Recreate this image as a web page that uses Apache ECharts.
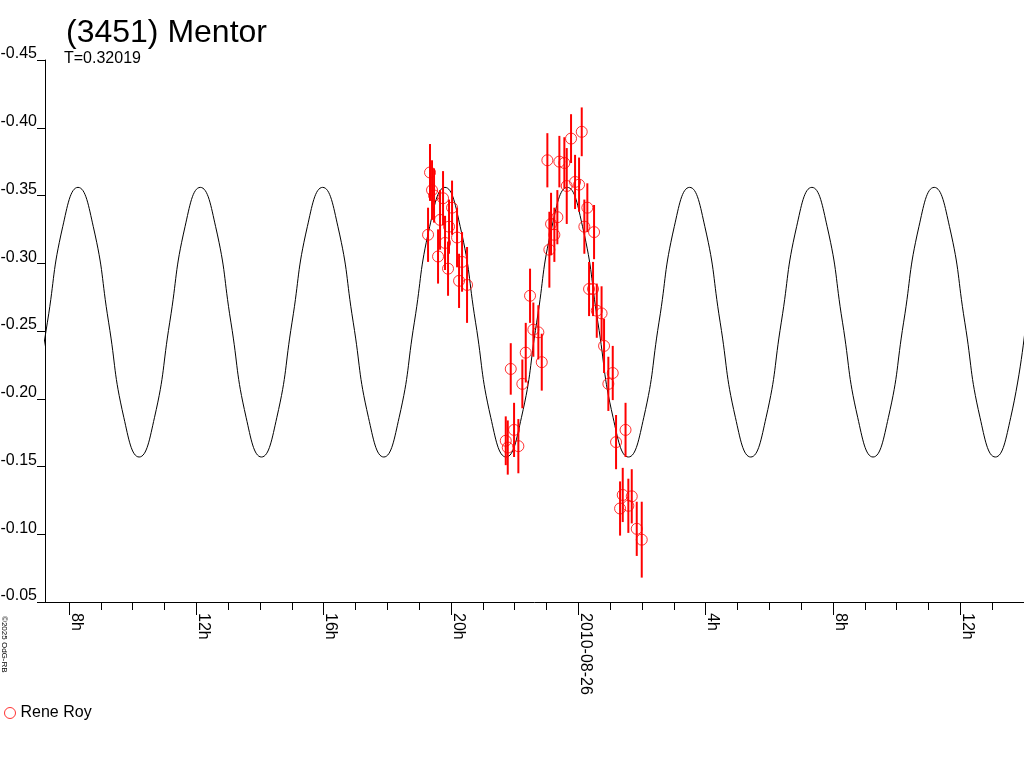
<!DOCTYPE html>
<html><head><meta charset="utf-8">
<script src="https://cdn.jsdelivr.net/npm/echarts@6/dist/echarts.min.js"></script>
<style>html,body{margin:0;padding:0;background:#fff}#c{width:1024px;height:768px}</style>
</head><body><div id="c"></div>
<script>
// ---- text ----
const titleText = '(3451) Mentor';
const subtitleText = 'T=0.32019';
const observerName = 'Rene Roy';
const copyrightText = '\u00A92025 OdG-RB';
const dateLabel = '2010-08-26';

// ---- axes (hours counted from 2010-08-25 00:00 UT) ----
const hourTicks = [8,9,10,11,12,13,14,15,16,17,18,19,20,21,22,23,24,25,26,27,28,29,30,31,32,33,34,35,36,37];
const labelHours = [8,12,16,20,24,28,32,36];
const xRange = [7.246, 38.0];
const yRange = [-0.45, -0.05];
const yStep = 0.05;

// ---- model lightcurve ----
const curveHours = [6.842,7.322,7.803,8.283,8.763,9.244,9.724,10.204,
  10.684,11.165,11.645,12.125,12.606,13.086,13.566,14.046,
  14.527,15.007,15.487,15.968,16.448,16.928,17.409,17.889,
  18.369,18.849,19.330,19.810,20.290,20.771,21.251,21.731,
  22.211,22.692,23.172,23.652,24.133,24.613,25.093,25.573,
  26.054,26.534,27.014,27.495,27.975,28.455,28.936,29.416,
  29.896,30.376,30.857,31.337,31.817,32.298,32.778,33.258,
  33.738,34.219,34.699,35.179,35.660,36.140,36.620,37.100,
  37.581,38.061];
const curveMag = [-0.186,-0.2565,-0.327,-0.356,-0.327,-0.2565,-0.186,-0.157,
  -0.186,-0.2565,-0.327,-0.356,-0.327,-0.2565,-0.186,-0.157,
  -0.186,-0.2565,-0.327,-0.356,-0.327,-0.2565,-0.186,-0.157,
  -0.186,-0.2565,-0.327,-0.356,-0.327,-0.2565,-0.186,-0.157,
  -0.186,-0.2565,-0.327,-0.356,-0.327,-0.2565,-0.186,-0.157,
  -0.186,-0.2565,-0.327,-0.356,-0.327,-0.2565,-0.186,-0.157,
  -0.186,-0.2565,-0.327,-0.356,-0.327,-0.2565,-0.186,-0.157,
  -0.186,-0.2565,-0.327,-0.356,-0.327,-0.2565,-0.186,-0.157,
  -0.186,-0.2565];

// ---- observations (Rene Roy) ----
const obsHours = [19.341,19.404,19.467,19.750,20.033,19.656,19.938,19.279,20.190,19.813,
  19.593,20.347,19.907,20.253,20.504,
  21.720,21.783,21.981,22.116,21.877,22.241,22.348,22.483,22.587,22.744,22.851,
  23.027,23.090,23.143,23.247,23.341,23.404,23.561,23.636,23.771,23.897,24.023,24.107,
  24.189,24.283,24.494,24.337,24.462,
  24.579,24.730,24.808,25.081,24.943,25.185,25.483,25.395,25.678,25.571,25.311,25.835,25.992];
const obsMag = [-0.367,-0.354,-0.350,-0.348,-0.341,-0.332,-0.327,-0.321,-0.319,-0.315,
  -0.305,-0.301,-0.296,-0.287,-0.284,
  -0.169,-0.164,-0.177,-0.165,-0.222,-0.211,-0.234,-0.276,-0.251,-0.249,-0.227,
  -0.376,-0.310,-0.329,-0.321,-0.334,-0.375,-0.374,-0.357,-0.392,-0.360,-0.358,-0.397,
  -0.327,-0.341,-0.323,-0.281,-0.281,
  -0.265,-0.263,-0.239,-0.219,-0.211,-0.168,-0.177,-0.129,-0.128,-0.121,-0.119,-0.104,-0.096];
const obsErr = [0.021,0.022,0.020,0.020,0.020,0.022,0.020,0.020,0.022,0.020,
  0.020,0.022,0.020,0.020,0.028,
  0.018,0.020,0.020,0.020,0.019,0.018,0.022,0.020,0.020,0.020,0.021,
  0.020,0.028,0.023,0.020,0.020,0.019,0.019,0.028,0.018,0.020,0.020,0.018,
  0.020,0.018,0.020,0.020,0.020,
  0.020,0.020,0.020,0.020,0.020,0.020,0.020,0.020,0.020,0.020,0.020,0.020,0.028];

const FONT = 'Liberation Sans, Arial, sans-serif';
const chart = echarts.init(document.getElementById('c'), null, {renderer: 'canvas'});

const curveData = curveHours.map((h, i) => [h, curveMag[i]]);
const obsData = obsHours.map((h, i) => [h, obsMag[i]]);
const errData = obsHours.map((h, i) => [h, obsMag[i] - obsErr[i], obsMag[i] + obsErr[i]]);

const option = {
  animation: false,
  backgroundColor: '#ffffff',
  title: [
    {text: titleText, left: 66, top: 17, padding: 0,
     textStyle: {fontFamily: FONT, fontSize: 32, fontWeight: 'normal', color: '#000'}},
    {text: subtitleText, left: 64, top: 51, padding: 0,
     textStyle: {fontFamily: FONT, fontSize: 16, fontWeight: 'normal', color: '#000'}}
  ],
  legend: {
    left: 4, top: 705, itemWidth: 11, itemHeight: 11, padding: 0,
    textStyle: {fontFamily: FONT, fontSize: 16, color: '#000'},
    data: [{name: observerName, icon: 'circle',
      itemStyle: {color: 'rgba(0,0,0,0)', borderColor: '#ff0000', borderWidth: 1}}]
  },
  graphic: [{
    type: 'text', left: 0, top: 616, rotation: -Math.PI / 2,
    style: {text: copyrightText, font: '8px ' + FONT, fill: '#000'}
  }],
  grid: {left: 45, right: 0, top: 60, bottom: 166, containLabel: false, outerBoundsMode: 'none'},
  xAxis: [
    {
      type: 'value', min: xRange[0], max: xRange[1], position: 'bottom',
      axisLine: {show: true, lineStyle: {color: '#000', width: 1}},
      axisTick: {show: true, length: 8, inside: false, customValues: hourTicks,
        lineStyle: {color: '#000', width: 1}},
      axisLabel: {show: false},
      splitLine: {show: false}
    },
    {
      type: 'value', min: xRange[0], max: xRange[1], position: 'bottom',
      axisLine: {show: false},
      axisTick: {show: true, length: 13, customValues: labelHours,
        lineStyle: {color: '#000', width: 1}},
      axisLabel: {
        show: true, customValues: labelHours, rotate: -90, margin: 11,
        align: 'left', verticalAlign: 'bottom', lineHeight: 14,
        fontFamily: FONT, fontSize: 16, color: '#000',
        formatter: v => (Math.round(v) === 24 ? dateLabel : (Math.round(v) % 24) + 'h')
      },
      splitLine: {show: false}
    }
  ],
  yAxis: {
    type: 'value', min: yRange[0], max: yRange[1], interval: yStep, inverse: true,
    axisLine: {show: true, lineStyle: {color: '#000', width: 1}},
    axisTick: {show: true, length: 8, lineStyle: {color: '#000', width: 1}},
    axisLabel: {
      show: true, margin: 8, verticalAlign: 'bottom', align: 'right', lineHeight: 12,
      fontFamily: FONT, fontSize: 16, color: '#000',
      formatter: v => v.toFixed(2)
    },
    splitLine: {show: false}
  },
  series: [
    {
      type: 'line', name: 'model', data: curveData, smooth: 0.5,
      showSymbol: false, symbol: 'none', clip: true,
      lineStyle: {color: '#000', width: 1}, z: 1, silent: true
    },
    {
      type: 'custom', name: 'errors', data: errData, clip: true,
      encode: {x: 0, y: [1, 2]}, z: 2, silent: true,
      renderItem: (params, api) => {
        const p1 = api.coord([api.value(0), api.value(1)]);
        const p2 = api.coord([api.value(0), api.value(2)]);
        return {type: 'line', shape: {x1: p1[0], y1: p1[1], x2: p2[0], y2: p2[1]},
          style: {stroke: '#ff0000', lineWidth: 2}};
      }
    },
    {
      type: 'scatter', name: observerName, data: obsData, symbol: 'circle', symbolSize: 11,
      itemStyle: {color: 'rgba(0,0,0,0)', borderColor: '#ff0000', borderWidth: 1},
      z: 3, silent: true
    }
  ]
};
chart.setOption(option);
</script>
</body></html>
